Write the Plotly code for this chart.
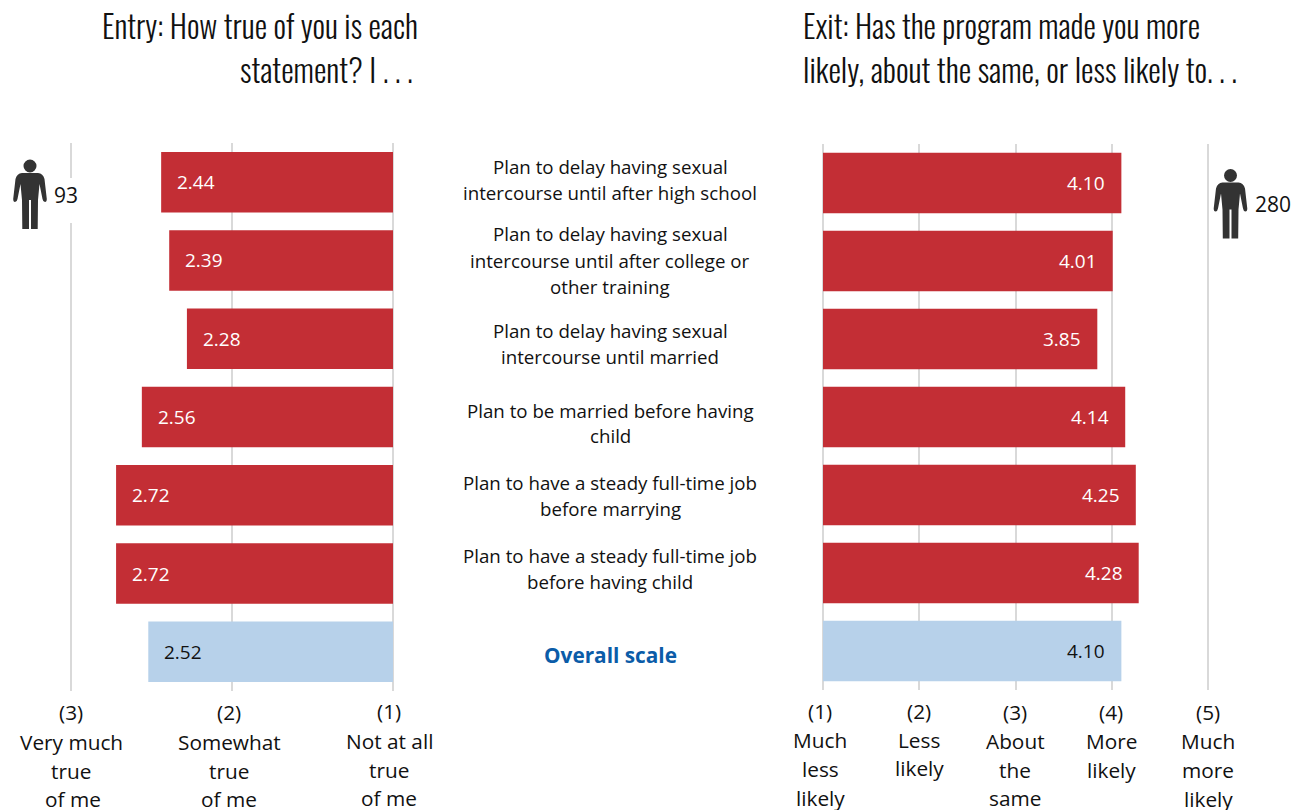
import plotly.graph_objects as go

WIDTH, HEIGHT = 1301, 810

TITLE_FONT = "Oswald"
BODY_FONT = "Open Sans"
RED = "#c32e35"
BLUE = "#b7d1ea"
GRID = "#d9d9d9"
DARK = "#333333"

row_names = ["after high school", "after college", "until married", "married first",
             "job before marrying", "job before child", "Overall scale"]
entry_values = [2.44, 2.39, 2.28, 2.56, 2.72, 2.72, 2.52]
exit_values = [4.10, 4.01, 3.85, 4.14, 4.25, 4.28, 4.10]
bar_colors = [RED] * 6 + [BLUE]
label_colors = ["white"] * 6 + ["#111111"]

entry_ticks = [3, 2, 1]
exit_ticks = [1, 2, 3, 4, 5]

# Statement text: (line, y pixel)
statement_lines = [
    ("Plan to delay having sexual", 166), ("intercourse until after high school", 192),
    ("Plan to delay having sexual", 234), ("intercourse until after college or", 260), ("other training", 286),
    ("Plan to delay having sexual", 330), ("intercourse until married", 356),
    ("Plan to be married before having", 410), ("child", 435),
    ("Plan to have a steady full-time job", 482), ("before marrying", 508),
    ("Plan to have a steady full-time job", 555), ("before having child", 581),
]

# Axis captions: (centre x pixel, y pixel, text)
entry_captions = [
    (71, 712, "(3)"), (71, 742, "Very much"), (71, 771, "true"), (73, 799, "of me"),
    (229, 712, "(2)"), (229, 742, "Somewhat"), (229, 771, "true"), (229, 799, "of me"),
    (389, 711, "(1)"), (389, 741, "Not at all"), (389, 770, "true"), (389, 798, "of me"),
]
exit_captions = [
    (820, 711, "(1)"), (820, 740, "Much"), (820, 769, "less"), (820, 798, "likely"),
    (919, 711, "(2)"), (919, 740, "Less"), (919, 768, "likely"),
    (1015, 712, "(3)"), (1015, 741, "About"), (1015, 770, "the"), (1015, 798, "same"),
    (1111, 712, "(4)"), (1111, 741, "More"), (1111, 770, "likely"),
    (1208, 712, "(5)"), (1208, 741, "Much"), (1208, 770, "more"), (1208, 799, "likely"),
]

entry_domain_px = (50, 410)
exit_domain_px = (800, 1230)


def px(x):
    return x / WIDTH


def py(y):
    return 1 - y / HEIGHT


def text_at(x, y, text, size=18, color="#111111", anchor="center", font=BODY_FONT, bold=False, weight=None):
    face = dict(family=font, size=size, color=color)
    if weight:
        face["weight"] = weight
    return dict(xref="paper", yref="paper", x=px(x), y=py(y), text=f"<b>{text}</b>" if bold else text,
                showarrow=False, xanchor=anchor, yanchor="middle", font=face)


def person(cx, cy):
    """Pictogram of a standing figure with its head centred on (cx, cy)."""
    outline = [("M", -8, 7), ("L", 8, 7), ("Q", 13, 7.5, 14.5, 13), ("L", 16.8, 33), ("Q", 16.8, 36, 15, 36),
               ("Q", 13, 36, 12.5, 33), ("L", 9.5, 18), ("L", 8, 34), ("L", 7.7, 63), ("L", 1, 63),
               ("L", 1, 34), ("L", -1, 34), ("L", -1, 63), ("L", -7.7, 63), ("L", -8, 34), ("L", -9.5, 18),
               ("L", -12.5, 33), ("Q", -13, 36, -15, 36), ("Q", -16.8, 36, -16.8, 33), ("L", -14.5, 13),
               ("Q", -13, 7.5, -8, 7)]
    parts = []
    for seg in outline:
        cmd, vals = seg[0], seg[1:]
        coords = []
        for i in range(0, len(vals), 2):
            coords.append(f"{px(cx + vals[i]):.5f},{py(cy + vals[i + 1]):.5f}")
        parts.append(cmd + " ".join(coords))
    path = " ".join(parts) + " Z"
    return [
        dict(type="path", xref="paper", yref="paper", path=path, fillcolor=DARK, line_width=0),
        dict(type="circle", xref="paper", yref="paper", x0=px(cx - 6.5), x1=px(cx + 6.5),
             y0=py(cy + 6.5), y1=py(cy - 6.5), fillcolor=DARK, line_width=0),
    ]


fig = go.Figure()
fig.add_trace(go.Bar(y=row_names, x=[v - 1 for v in entry_values], base=1, orientation="h",
                     marker=dict(color=bar_colors, line_width=0), xaxis="x", yaxis="y",
                     hoverinfo="skip"))
fig.add_trace(go.Bar(y=row_names, x=[v - 1 for v in exit_values], base=1, orientation="h",
                     marker=dict(color=bar_colors, line_width=0), xaxis="x2", yaxis="y2",
                     hoverinfo="skip"))

annotations = []
for name, value, color in zip(row_names, entry_values, label_colors):
    annotations.append(dict(xref="x", yref="y", x=value, y=name, text=f"{value:.2f}", showarrow=False,
                            xanchor="left", xshift=14, font=dict(family=BODY_FONT, size=19, color=color)))
for name, value, color in zip(row_names, exit_values, label_colors):
    annotations.append(dict(xref="x2", yref="y2", x=value, y=name, text=f"{value:.2f}", showarrow=False,
                            xanchor="right", xshift=-14, font=dict(family=BODY_FONT, size=19, color=color)))

for line, y in statement_lines:
    annotations.append(text_at(610, y, line, size=18.7))
annotations.append(text_at(610, 655, "Overall scale", size=20.8, color="#0b5ca8", bold=True))

for x, y, text in entry_captions + exit_captions:
    annotations.append(text_at(x, y, text, size=20.8))

annotations += [
    text_at(420, 25.5, "Entry: How true of you is each", size=31.3, anchor="right", font=TITLE_FONT, weight=300),
    text_at(415, 69, "statement? I . . .", size=31.5, anchor="right", font=TITLE_FONT, weight=300),
    text_at(801, 25.5, "Exit: Has the program made you more", size=31.3, anchor="left", font=TITLE_FONT, weight=300),
    text_at(801, 69, "likely, about the same, or less likely to. . .", size=31.6, anchor="left",
            font=TITLE_FONT, weight=300),
    text_at(52, 195, "93", size=21, anchor="left"),
    text_at(1253, 204, "280", size=21, anchor="left"),
]

shapes = [dict(type="rect", xref="paper", yref="paper", x0=px(66), x1=px(76), y0=py(223), y1=py(178),
               fillcolor="white", line_width=0)]
shapes += person(30, 166) + person(1230.5, 175.5)


def x_range(domain, at_one, per_unit):
    return [1 + (d - at_one) / per_unit for d in domain]


axis_common = dict(showgrid=True, gridcolor=GRID, gridwidth=2, zeroline=False, showticklabels=False,
                   ticks="", showline=False, fixedrange=True, tickmode="array")
y_common = dict(type="category", categoryorder="array", categoryarray=row_names, autorange=False,
                range=[6.5, -0.5], showgrid=False, zeroline=False, showticklabels=False,
                ticks="", showline=False, fixedrange=True)

fig.update_layout(
    width=WIDTH, height=HEIGHT, autosize=False,
    margin=dict(l=0, r=0, t=0, b=0), paper_bgcolor="white", plot_bgcolor="white",
    showlegend=False, bargap=0.227,
    xaxis=dict(domain=[px(entry_domain_px[0]), px(entry_domain_px[1])], anchor="y", tickvals=entry_ticks,
               autorange=False, range=[1 + (393 - entry_domain_px[0]) / 161, 1 + (393 - entry_domain_px[1]) / 161],
               **axis_common),
    xaxis2=dict(domain=[px(exit_domain_px[0]), px(exit_domain_px[1])], anchor="y2", tickvals=exit_ticks,
                autorange=False, range=x_range(exit_domain_px, 823, 96.25), **axis_common),
    yaxis=dict(domain=[py(691), py(143)], anchor="x", **y_common),
    yaxis2=dict(domain=[py(690), py(144)], anchor="x2", **y_common),
    annotations=annotations, shapes=shapes,
)

fig.write_html("out.html", config={"displayModeBar": False})
